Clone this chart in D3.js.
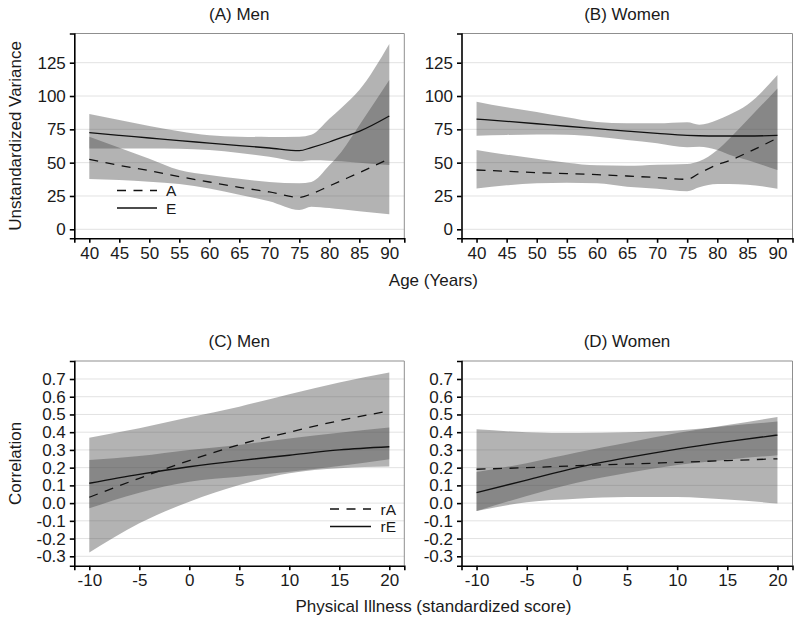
<!DOCTYPE html>
<html><head><meta charset="utf-8">
<script src="https://cdn.jsdelivr.net/npm/d3@7"></script>
<style>
body{margin:0;background:#fff}
svg{display:block}
text{font-family:"Liberation Sans",Arial,Helvetica,sans-serif;fill:#1a1a1a}
</style>
</head><body>
<svg id="chart" width="800" height="626"></svg>
<script>
// ---------- data ----------
const ageX = [40,45,50,55,60,65,70,75,77,80,82,85,90];
// (A) Men
const menA    = [52.5,48,44,39.5,35.5,31.5,28,24,26.5,32.5,36.5,42.5,53];
const menALo  = [37.7,37,35.7,34,30.7,26,21,14.5,17,16,15,13.5,11.2];
const menAHi  = [69.5,61.2,53,44.5,40.7,38,35.5,34.5,35.5,48,58,78,112];
const menE    = [72.5,70.5,68.5,66.5,64.7,62.8,61,59,61.3,65.5,68.8,73.5,85];
const menELo  = [60.7,60.7,60.7,60.5,59.5,57.3,54.5,51,51.8,51.5,51,50,48.2];
const menEHi  = [86.5,82,77.5,73.5,70.5,69.5,69.3,69.5,71,83,91,104.5,139];
// (B) Women
const womA    = [44.5,43.5,42.5,41.8,41,40,38.8,37.5,42,48.5,51.5,57.5,68.5];
const womALo  = [30.7,33,34.5,35,34.5,32,30.5,28.5,31.5,34,34,33.5,30.5];
const womAHi  = [59.5,56,53,50,48,47.7,48.5,49,51,59.5,68,82,105.7];
const womE    = [82.7,81,79.2,77.3,75.5,73.7,72,70.5,70.2,70,70,70,70.5];
const womELo  = [70.2,70.8,71.2,71,69.5,67,64.5,61.5,62,59.5,56,52,44.4];
const womEHi  = [95.7,91.5,88,84,80.5,79.5,79.5,80.3,78.5,82,86,93.5,115.7];

const illX = [-10,-5,0,5,10,15,20];
// (C) Men
const menRA   = [0.033,0.14,0.24,0.33,0.40,0.465,0.52];
const menRALo = [-0.279,-0.114,0.008,0.102,0.168,0.196,0.206];
const menRAHi = [0.369,0.422,0.484,0.544,0.614,0.68,0.736];
const menRE   = [0.112,0.162,0.205,0.24,0.27,0.30,0.318];
const menRELo = [-0.029,0.059,0.121,0.149,0.177,0.209,0.247];
const menREHi = [0.243,0.266,0.30,0.328,0.365,0.397,0.426];
// (D) Women
const womRA   = [0.191,0.20,0.211,0.22,0.23,0.24,0.25];
const womRALo = [-0.045,0.005,0.025,0.035,0.035,0.02,-0.002];
const womRAHi = [0.416,0.40,0.395,0.40,0.41,0.435,0.46];
const womRE   = [0.059,0.13,0.20,0.256,0.305,0.347,0.384];
const womRELo = [-0.045,0.04,0.115,0.17,0.215,0.245,0.27];
const womREHi = [0.175,0.225,0.285,0.34,0.395,0.44,0.485];

// ticks
const ageTicks = [40,45,50,55,60,65,70,75,80,85,90];
const varTicks = [0,25,50,75,100,125];
const varTickLabels = ["0","25","50","75","100","125"];
const illTicks = [-10,-5,0,5,10,15,20];
const illTickLabels = ["-10","-5","0","5","10","15","20"];
const corTicks = [-0.3,-0.2,-0.1,0,0.1,0.2,0.3,0.4,0.5,0.6,0.7];
const corTickLabels = ["-0.3","-0.2","-0.1","0.0","0.1","0.2","0.3","0.4","0.5","0.6","0.7"];
const panelTitles = ["(A) Men","(B) Women","(C) Men","(D) Women"];
const legendTop = ["A","E"];
const legendBottom = ["rA","rE"];

// ---------- layout ----------
const svg = d3.select("#chart");
const FS = 17, LFS = 15.5;
const cols = [{x0:74.3,x1:404.3},{x0:461.5,x1:792.5}];
const rows = [{y0:33.5,y1:238.3},{y0:361,y1:565.7}];
const DASH = "9,7.5";
const bandFill = "#4a4a4a", bandOpacity = 0.42;

function zip(xs, ys){ return xs.map((x,i)=>({x, y:ys[i]})); }
function zipBand(xs, lo, hi){ return xs.map((x,i)=>({x, lo:lo[i], hi:hi[i]})); }

function panel(c, r, cfg){
  const x = d3.scaleLinear().domain(cfg.xDomain).range([c.x0, c.x1]);
  const y = d3.scaleLinear().domain(cfg.yDomain).range([r.y1, r.y0]);
  const g = svg.append("g");
  g.selectAll(".grid").data(cfg.yTicks).enter().append("line")
    .attr("x1", c.x0).attr("x2", c.x1)
    .attr("y1", d=>y(d)).attr("y2", d=>y(d))
    .attr("stroke", "#e2e2e2").attr("stroke-width", 1);
  const area = d3.area().x(d=>x(d.x)).y0(d=>y(d.lo)).y1(d=>y(d.hi)).curve(d3.curveMonotoneX);
  cfg.bands.forEach(b=>{
    g.append("path").datum(zipBand(cfg.xs, b.lo, b.hi))
      .attr("d", area).attr("fill", bandFill).attr("fill-opacity", bandOpacity);
  });
  const line = d3.line().x(d=>x(d.x)).y(d=>y(d.y)).curve(d3.curveMonotoneX);
  cfg.lines.forEach(l=>{
    g.append("path").datum(zip(cfg.xs, l.y))
      .attr("d", line).attr("fill", "none").attr("stroke", "#111")
      .attr("stroke-width", 1.3).attr("stroke-dasharray", l.dash ? DASH : null);
  });
  g.append("path").attr("d", `M${c.x0},${r.y0}H${c.x1}V${r.y1}`)
    .attr("fill","none").attr("stroke","#8f8f8f").attr("stroke-width",1);
  const ax = g.append("g").attr("transform", `translate(0,${r.y1})`)
    .call(d3.axisBottom(x).tickValues(cfg.xTicks).tickFormat((d,i)=>cfg.xLabels[i]).tickSizeOuter(0).tickSize(4.5).tickPadding(4));
  const ay = g.append("g").attr("transform", `translate(${c.x0},0)`)
    .call(d3.axisLeft(y).tickValues(cfg.yTicks).tickFormat((d,i)=>cfg.yLabels[i]).tickSizeOuter(0).tickSize(4.5).tickPadding(4));
  [ax, ay].forEach(a=>{
    a.select(".domain").attr("stroke","#000").attr("stroke-width",1.6);
    a.selectAll(".tick line").attr("stroke","#000").attr("stroke-width",1.6);
    a.selectAll("text").style("font-family",'"Liberation Sans",Arial,sans-serif')
      .style("font-size", FS+"px").attr("fill","#1a1a1a");
  });
  g.append("text").attr("x", (c.x0+c.x1)/2).attr("y", r.y0-14)
    .attr("text-anchor","middle").style("font-size", FS+"px").text(cfg.title);
  if (cfg.legend){
    const L = cfg.legend;
    L.labels.forEach((lab,i)=>{
      const yy = L.ys[i];
      g.append("line").attr("x1", L.x1).attr("x2", L.x2).attr("y1", yy).attr("y2", yy)
        .attr("stroke","#111").attr("stroke-width",1.3).attr("stroke-dasharray", i===0 ? DASH : null);
      g.append("text").attr("x", L.tx).attr("y", yy+5.5).style("font-size", LFS+"px").text(lab);
    });
  }
  return {x, y};
}

const varDomain = [-6.75, 146.9];
const corDomain = [-0.353, 0.8015];

panel(cols[0], rows[0], {
  xs: ageX, xDomain:[37.5,92.5], yDomain: varDomain,
  xTicks: ageTicks, xLabels: ageTicks.map(String), yTicks: varTicks, yLabels: varTickLabels,
  bands:[{lo:menALo, hi:menAHi},{lo:menELo, hi:menEHi}],
  lines:[{y:menA, dash:true},{y:menE, dash:false}],
  title: panelTitles[0],
  legend:{labels:legendTop, x1:117, x2:157, tx:166, ys:[190.5,208]}
});
panel(cols[1], rows[0], {
  xs: ageX, xDomain:[37.5,92.5], yDomain: varDomain,
  xTicks: ageTicks, xLabels: ageTicks.map(String), yTicks: varTicks, yLabels: varTickLabels,
  bands:[{lo:womALo, hi:womAHi},{lo:womELo, hi:womEHi}],
  lines:[{y:womA, dash:true},{y:womE, dash:false}],
  title: panelTitles[1]
});
panel(cols[0], rows[1], {
  xs: illX, xDomain:[-11.5,21.5], yDomain: corDomain,
  xTicks: illTicks, xLabels: illTickLabels, yTicks: corTicks, yLabels: corTickLabels,
  bands:[{lo:menRALo, hi:menRAHi},{lo:menRELo, hi:menREHi}],
  lines:[{y:menRA, dash:true},{y:menRE, dash:false}],
  title: panelTitles[2],
  legend:{labels:legendBottom, x1:330, x2:371, tx:380.5, ys:[509,526.5]}
});
panel(cols[1], rows[1], {
  xs: illX, xDomain:[-11.5,21.5], yDomain: corDomain,
  xTicks: illTicks, xLabels: illTickLabels, yTicks: corTicks, yLabels: corTickLabels,
  bands:[{lo:womRALo, hi:womRAHi},{lo:womRELo, hi:womREHi}],
  lines:[{y:womRA, dash:true},{y:womRE, dash:false}],
  title: panelTitles[3]
});

const midX = (cols[0].x0 + cols[1].x1)/2;
svg.append("text").attr("x", midX).attr("y", 286).attr("text-anchor","middle")
  .style("font-size", FS+"px").text("Age (Years)");
svg.append("text").attr("x", midX).attr("y", 612).attr("text-anchor","middle")
  .style("font-size", FS+"px").text("Physical Illness (standardized score)");
svg.append("text").attr("transform", `translate(21,${(rows[0].y0+rows[0].y1)/2}) rotate(-90)`)
  .attr("text-anchor","middle").style("font-size", FS+"px").text("Unstandardized Variance");
svg.append("text").attr("transform", `translate(21,${(rows[1].y0+rows[1].y1)/2}) rotate(-90)`)
  .attr("text-anchor","middle").style("font-size", FS+"px").text("Correlation");
</script>
</body></html>
